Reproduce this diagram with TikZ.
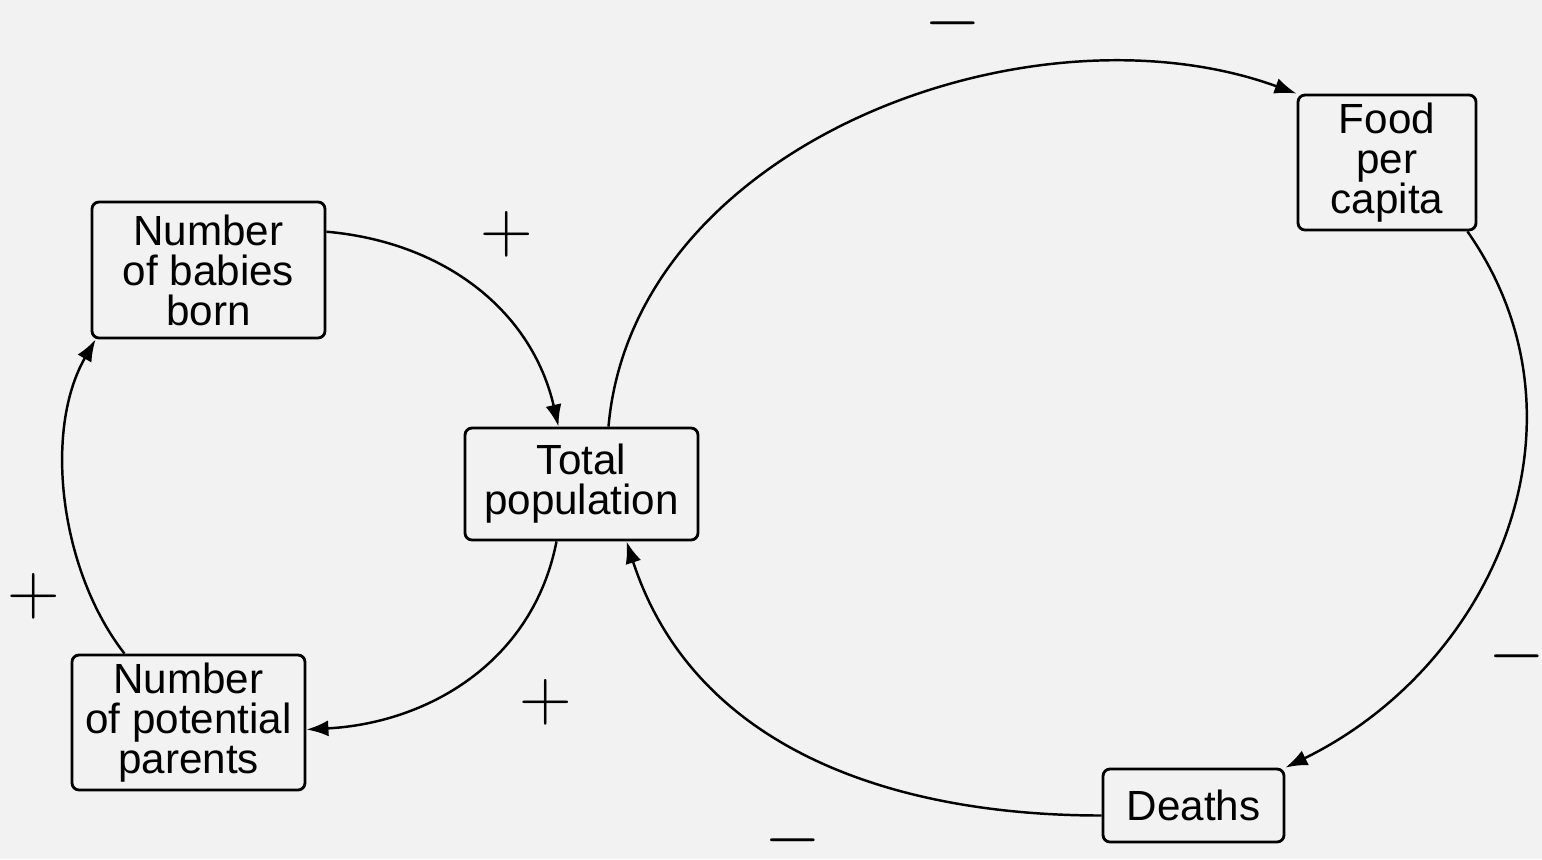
\documentclass[tikz,border=0pt]{standalone}
\usepackage{fontspec}
\setmainfont{Liberation Sans}
\usetikzlibrary{arrows.meta}
\tikzset{
	factor/.style={draw=black, line width=0.8pt, rounded corners=2pt, align=center, inner sep=2pt, font=\fontsize{12}{11.4}\selectfont},
	link/.style={->, line width=0.7pt},
	sign/.style={inner sep=0pt, font=\fontsize{21.7}{22}\selectfont}
}
\begin{document}
\begin{tikzpicture}[>={Latex[length=2.2mm,width=1.6mm]}]
			\fill[black!5] (0,0) rectangle (15.42,8.59);
			\useasboundingbox (0,0) rectangle (15.42,8.59);
			\node[factor, minimum width=2.33cm, minimum height=1.36cm] (babies) at (2.085,5.89) {Number\\of babies\\born};
			\node[factor, minimum width=2.33cm, minimum height=1.12cm] (total) at (5.815,3.75) {Total\\population};
			\node[factor, minimum width=2.33cm, minimum height=1.35cm] (parents) at (1.885,1.365) {Number\\of potential\\parents};
			\node[factor, minimum width=1.78cm, minimum height=1.35cm] (food) at (13.87,6.965) {Food\\per\\capita};
			\node[factor, minimum width=1.81cm, minimum height=0.73cm] (deaths) at (11.935,0.535) {Deaths};
			% left loop
			\draw[link] (babies.18) to[out=-5, in=103] ([xshift=-0.23cm]total.north);
			\draw[link] ([xshift=-0.25cm]total.south) to[out=-101, in=3] ([yshift=-0.07cm]parents.east);
			\draw[link] ([xshift=-0.64cm]parents.north) to[out=128, in=240, looseness=0.85] ([xshift=0.05cm]babies.south west);
			% right loop
			\draw[link] ([xshift=0.27cm]total.north) to[out=85, in=160, looseness=0.95] (food.north west);
			\draw[link] ([xshift=-0.1cm]food.south east) to[out=-55, in=26, looseness=1.05] (deaths.north east);
			\draw[link] ([yshift=-0.1cm]deaths.west) to[out=180, in=-72] ([xshift=0.45cm]total.south);
			% signs
			\node[sign] (p1) at (5.07,6.25) {$+$};
			\node[sign] (p2) at (0.34,2.63) {$+$};
			\node[sign] (p3) at (5.46,1.57) {$+$};
			\node[sign] (m1) at (9.525,8.36) {$-$};
			\node[sign] (m2) at (15.17,2.03) {$-$};
			\node[sign] (m3) at (7.93,0.19) {$-$};
		\end{tikzpicture}
\end{document}
